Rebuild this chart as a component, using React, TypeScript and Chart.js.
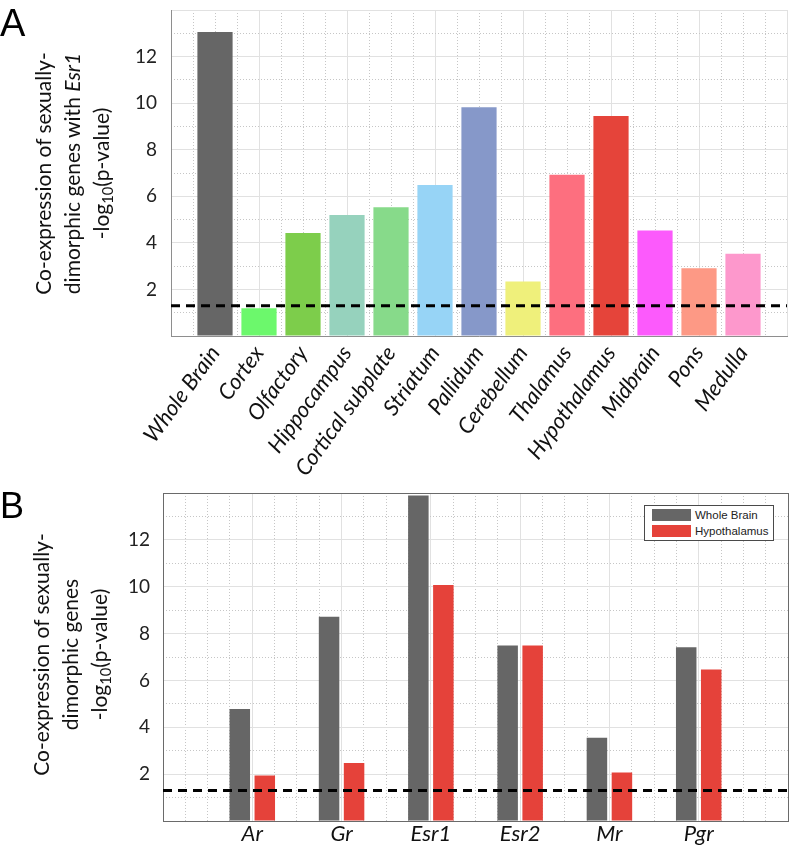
import React, { useEffect, useRef } from "react";
import { Chart, registerables } from "chart.js";

Chart.register(...registerables);

// ---------- data ----------
const regions = [
  "Whole Brain",
  "Cortex",
  "Olfactory",
  "Hippocampus",
  "Cortical subplate",
  "Striatum",
  "Pallidum",
  "Cerebellum",
  "Thalamus",
  "Hypothalamus",
  "Midbrain",
  "Pons",
  "Medulla",
];
const regionValues = [13.06, 1.19, 4.42, 5.2, 5.53, 6.49, 9.82, 2.34, 6.92, 9.45, 4.53, 2.91, 3.53];
const regionColors = [
  "#666666",
  "#6cf86c",
  "#7dcd4b",
  "#96d2bd",
  "#87da8a",
  "#97d4f6",
  "#8698c9",
  "#eff07b",
  "#fd6f7f",
  "#e5443a",
  "#fc5afc",
  "#fd9985",
  "#fd98cc",
];

const genes = ["Ar", "Gr", "Esr1", "Esr2", "Mr", "Pgr"];
const wholeBrainValues = [4.78, 8.72, 13.89, 7.49, 3.55, 7.42];
const hypothalamusValues = [1.94, 2.48, 10.07, 7.49, 2.07, 6.47];
const seriesNames = ["Whole Brain", "Hypothalamus"];
const seriesColors = ["#666666", "#e5423a"];

const threshold = 1.301; // -log10(0.05)
const yTickLabels = [2, 4, 6, 8, 10, 12];
const yMax = 14;

// ---------- styling ----------
const FONT = "Lato, 'Open Sans', sans-serif";
const MAJOR = "#e1e1e1";
const MINOR = "#c6c6c6";
const FRAME_A = "#8e8e8e";
const FRAME_B = "#6a6a6a";

const isMult = (v: number, m: number) => Math.abs(v / m - Math.round(v / m)) < 1e-6;

function fixSize(size: number, horizontal: boolean) {
  return (s: any) => {
    if (horizontal) s.height = size;
    else s.width = size;
    s.paddingLeft = 0;
    s.paddingRight = 0;
    s.paddingTop = 0;
    s.paddingBottom = 0;
  };
}

function gridAxis(
  position: "left" | "right" | "top" | "bottom",
  min: number,
  max: number,
  step: number,
  color: (v: number) => string,
  dash: number[],
  borderColor?: string
) {
  const horizontal = position === "top" || position === "bottom";
  return {
    type: "linear",
    position,
    min,
    max,
    offset: false,
    ticks: { display: false, stepSize: step, autoSkip: false },
    grid: {
      offset: false,
      drawTicks: false,
      lineWidth: 1,
      color: (ctx: any) => (ctx.tick ? color(ctx.tick.value) : "transparent"),
    },
    border: { display: !!borderColor, color: borderColor || "transparent", width: 1, dash },
    afterFit: fixSize(0, horizontal),
  };
}

function thresholdDataset(xMax: number) {
  return {
    type: "line",
    data: [
      { x: 0, y: threshold },
      { x: xMax, y: threshold },
    ],
    borderColor: "#000000",
    borderWidth: 3,
    borderDash: [9, 6],
    pointRadius: 0,
    fill: false,
    order: 0,
    xAxisID: "x",
    yAxisID: "y",
  };
}

function yLabelAxis(frame: string, padding: number, fontSize: number) {
  return {
    type: "linear",
    position: "left",
    min: 0,
    max: yMax,
    ticks: {
      stepSize: 2,
      padding,
      color: "#222222",
      font: { family: FONT, size: fontSize },
      callback: (v: any) => (yTickLabels.includes(Number(v)) ? String(v) : ""),
    },
    grid: { color: MAJOR, drawTicks: false, lineWidth: 1 },
    border: { display: true, color: frame, width: 1 },
    afterFit: fixSize(50, false),
  };
}

function ChartA() {
  const ref = useRef<HTMLCanvasElement | null>(null);
  useEffect(() => {
    if (!ref.current) return;
    const xMax = regions.length + 1;
    const chart = new Chart(ref.current, {
      type: "bar",
      data: {
        datasets: [
          thresholdDataset(xMax) as any,
          {
            type: "bar",
            data: regions.map((_, i) => ({ x: i + 1, y: regionValues[i] })),
            backgroundColor: regionColors,
            borderWidth: 0,
            categoryPercentage: 1,
            barPercentage: 0.8,
            order: 1,
            xAxisID: "x",
            yAxisID: "y",
          },
        ],
      },
      options: {
        animation: false,
        responsive: false,
        events: [],
        layout: { padding: { left: 121, top: 10, right: 6, bottom: 4 } },
        plugins: { legend: { display: false }, tooltip: { enabled: false } },
        scales: {
          x: {
            type: "linear",
            position: "bottom",
            min: 0,
            max: xMax,
            offset: false,
            ticks: {
              stepSize: 1,
              autoSkip: false,
              minRotation: 54,
              maxRotation: 54,
              padding: 5,
              color: "#111111",
              font: { family: FONT, size: 22, style: "italic" },
              callback: (v: any) => regions[Number(v) - 1] ?? "",
            },
            grid: { display: false, offset: false, drawTicks: false },
            border: { display: true, color: FRAME_A, width: 1 },
            afterFit: fixSize(200, true),
          },
          xMajor: gridAxis("bottom", 0, xMax, 2, () => MAJOR, []),
          xMinor: gridAxis("bottom", 0, xMax, 0.5, (v) => (isMult(v, 2) ? "transparent" : MINOR), [1, 2]),
          y: yLabelAxis(FRAME_A, 14, 19),
          yMinor: gridAxis("left", 0, yMax, 1, (v) => (isMult(v, 2) ? "transparent" : MINOR), [1, 2]),
        } as any,
      },
    } as any);
    return () => chart.destroy();
  }, []);
  return (
    <canvas
      ref={ref}
      width={793}
      height={540}
      style={{ position: "absolute", left: 0, top: 0, width: 793, height: 540 }}
    />
  );
}

function ChartB() {
  const ref = useRef<HTMLCanvasElement | null>(null);
  useEffect(() => {
    if (!ref.current) return;
    const xMax = genes.length + 1;
    const series = [wholeBrainValues, hypothalamusValues];
    const chart = new Chart(ref.current, {
      type: "bar",
      data: {
        datasets: [
          thresholdDataset(xMax) as any,
          ...series.map((vals, s) => ({
            type: "bar",
            label: seriesNames[s],
            data: genes.map((_, i) => ({ x: i + 1, y: vals[i] })),
            backgroundColor: seriesColors[s],
            borderWidth: 0,
            categoryPercentage: 0.56,
            barPercentage: 0.82,
            order: 1,
            xAxisID: "x",
            yAxisID: "y",
          })),
        ],
      },
      options: {
        animation: false,
        responsive: false,
        events: [],
        layout: { padding: { left: 113, top: 23, right: 5, bottom: 0 } },
        plugins: { legend: { display: false }, tooltip: { enabled: false } },
        scales: {
          x: {
            type: "linear",
            position: "bottom",
            min: 0,
            max: xMax,
            offset: false,
            ticks: {
              stepSize: 1,
              autoSkip: false,
              maxRotation: 0,
              minRotation: 0,
              padding: 0,
              color: "#111111",
              font: { family: FONT, size: 22, style: "italic" },
              callback: (v: any) => genes[Number(v) - 1] ?? "",
            },
            grid: { offset: false, drawTicks: false, color: MAJOR, lineWidth: 1 },
            border: { display: true, color: FRAME_B, width: 1 },
            afterFit: fixSize(24, true),
          },
          xMinor: gridAxis("bottom", 0, xMax, 0.25, (v) => (isMult(v, 1) ? "transparent" : MINOR), [1, 2]),
          xTop: gridAxis("top", 0, xMax, 1, () => "transparent", [], FRAME_B),
          y: yLabelAxis(FRAME_B, 13, 19),
          yMinor: gridAxis("left", 0, yMax, 1, (v) => (isMult(v, 2) ? "transparent" : MINOR), [1, 2]),
          yRight: gridAxis("right", 0, yMax, 2, () => "transparent", [], FRAME_B),
        } as any,
      },
    } as any);
    return () => chart.destroy();
  }, []);
  return (
    <canvas
      ref={ref}
      width={793}
      height={375}
      style={{ position: "absolute", left: 0, top: 470, width: 793, height: 375 }}
    />
  );
}

const subStyle: React.CSSProperties = { fontSize: "0.7em", verticalAlign: "-0.3em", lineHeight: 0 };

function YTitle({ cx, cy, lines }: { cx: number; cy: number; lines: React.ReactNode[] }) {
  const W = 360;
  const LH = 29;
  const H = LH * lines.length;
  return (
    <div
      style={{
        position: "absolute",
        left: cx - W / 2,
        top: cy - H / 2,
        width: W,
        height: H,
        transform: "rotate(-90deg)",
        transformOrigin: "50% 50%",
        textAlign: "center",
        fontFamily: FONT,
        fontSize: 21,
        lineHeight: LH + "px",
        color: "#111111",
        whiteSpace: "nowrap",
      }}
    >
      {lines.map((l, i) => (
        <div key={i}>{l}</div>
      ))}
    </div>
  );
}

function PanelLabel({ text, top, size }: { text: string; top: number; size: number }) {
  return (
    <div
      style={{
        position: "absolute",
        left: 0,
        top,
        fontFamily: "'Liberation Sans', Arial, sans-serif",
        fontSize: size,
        lineHeight: 1,
        color: "#000000",
      }}
    >
      {text}
    </div>
  );
}

function LegendB() {
  return (
    <div
      style={{
        position: "absolute",
        left: 644,
        top: 505,
        width: 130,
        height: 36,
        boxSizing: "border-box",
        border: "1px solid #4a4a4a",
        background: "#ffffff",
      }}
    >
      {seriesNames.map((n, i) => (
        <div
          key={n}
          style={{
            position: "absolute",
            left: 7,
            top: 3 + i * 16,
            height: 12,
            display: "flex",
            alignItems: "center",
            whiteSpace: "nowrap",
          }}
        >
          <span style={{ display: "inline-block", width: 39, height: 12, background: seriesColors[i] }} />
          <span
            style={{
              marginLeft: 4,
              fontFamily: "'Liberation Sans', Arial, sans-serif",
              fontSize: 11.5,
              color: "#222222",
              lineHeight: "12px",
            }}
          >
            {n}
          </span>
        </div>
      ))}
    </div>
  );
}

export default function App() {
  useEffect(() => {
    document.body.style.margin = "0";
  }, []);
  return (
    <div
      style={{
        position: "absolute",
        left: 0,
        top: 0,
        width: 793,
        height: 845,
        background: "#ffffff",
        overflow: "hidden",
      }}
    >
      <ChartA />
      <ChartB />
      <PanelLabel text="A" top={4} size={38} />
      <PanelLabel text="B" top={488} size={36} />
      <YTitle
        cx={71}
        cy={173}
        lines={[
          "Co-expression of sexually-",
          <>
            dimorphic genes with <i>Esr1</i>
          </>,
          <>
            -log<span style={subStyle}>10</span>(p-value)
          </>,
        ]}
      />
      <YTitle
        cx={69}
        cy={654}
        lines={[
          "Co-expression of sexually-",
          "dimorphic genes",
          <>
            -log<span style={subStyle}>10</span>(p-value)
          </>,
        ]}
      />
      <LegendB />
    </div>
  );
}
